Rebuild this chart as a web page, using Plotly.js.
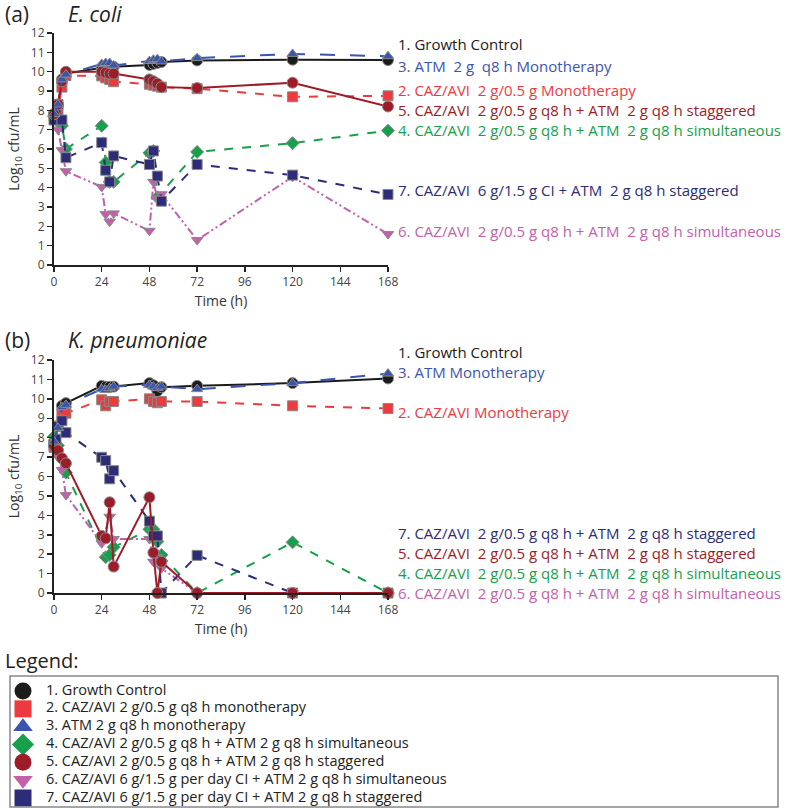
<!DOCTYPE html>
<html>
<head>
<meta charset="utf-8">
<script src="https://cdn.plot.ly/plotly-3.0.1.min.js"></script>
<style>
  body { margin: 0; background: #fff; }
  #chart { width: 791px; height: 809px; }
</style>
</head>
<body>
<div id="chart"></div>
<script>
// time points (h) and log10 cfu/mL, panel (a) E. coli
const tA = [0, 2, 4, 6, 24, 26, 28, 30, 48, 50, 52, 54, 72, 120, 168];
const gcA = [7.8, 8.3, 9.6, 9.9, 10.2, 10.2, 10.2, 10.25, 10.35, 10.4, 10.45, 10.5, 10.58, 10.62, 10.6];
const czA = [7.7, 8.0, 9.2, 9.8, 9.78, 9.68, 9.6, 9.48, 9.35, 9.3, 9.25, 9.2, 9.12, 8.7, 8.75];
const atmA = [7.8, 8.3, 9.6, 9.85, 10.4, 10.45, 10.45, 10.32, 10.55, 10.62, 10.65, 10.53, 10.7, 10.92, 10.8];
const simA_t = [0, 2, 4, 6, 24, 26, 28, 30, 48, 50, 52, 72, 120, 168];
const simA = [7.7, 7.5, 7.2, 6.0, 7.2, 5.3, 4.3, 4.3, 5.8, 5.9, 3.5, 5.85, 6.3, 6.95];
const stagA = [7.8, 8.3, 9.5, 10.0, 10.0, 9.95, 9.9, 9.9, 9.6, 9.5, 9.38, 9.2, 9.15, 9.43, 8.2];
const ciSimA = [7.6, 7.0, 5.94, 4.85, 4.04, 2.63, 2.24, 2.67, 1.77, 4.3, 3.44, 3.66, 1.29, 4.56, 1.6];
const ciStagA_t = [0, 1, 2, 4, 6, 24, 26, 28, 30, 48, 50, 52, 54, 72, 120, 168];
const ciStagA = [7.5, 7.8, 8.3, 7.5, 5.55, 6.33, 4.9, 4.3, 5.64, 5.2, 5.9, 4.6, 3.3, 5.2, 4.65, 3.65];

// panel (b) K. pneumoniae
const tB = [0, 2, 4, 6, 24, 26, 28, 30, 48, 50, 52, 54, 72, 120, 168];
const gcB = [7.8, 8.6, 9.64, 9.78, 10.67, 10.62, 10.62, 10.63, 10.81, 10.7, 10.4, 10.6, 10.67, 10.81, 11.05];
const czB = [7.5, 8.6, 9.18, 9.26, 9.95, 9.64, 9.86, 9.86, 10.0, 9.86, 9.8, 9.86, 9.86, 9.64, 9.5];
const atmB = [7.8, 8.5, 9.57, 9.69, 10.5, 10.45, 10.55, 10.63, 10.72, 10.63, 10.55, 10.63, 10.5, 10.81, 11.3];
const simB_t = [0, 2, 6, 26, 28, 30, 48, 50, 52, 54, 72, 120, 168];
const simB = [8.06, 7.6, 6.2, 1.84, 1.96, 2.36, 3.28, 3.28, 2.65, 1.96, 0, 2.61, 0];
const stagB = [7.6, 7.35, 6.94, 6.68, 2.94, 2.82, 4.67, 1.36, 4.93, 2.08, 0, 1.61, 0, 0, 0];
const ciSimB_t = [0, 2, 4, 6, 24, 28, 30, 48, 50, 52, 54, 72, 120, 168];
const ciSimB = [7.6, 7.0, 6.34, 5.05, 2.56, 3.93, 2.78, 2.78, 1.61, 1.84, 1.27, 0, 0, 0];
const ciStagB_t = [0, 1, 2, 4, 6, 24, 26, 28, 30, 48, 50, 52, 54, 72, 120, 168];
const ciStagB = [7.63, 7.92, 8.57, 8.87, 8.26, 6.99, 6.82, 5.88, 6.3, 3.7, 2.94, 2.94, 0, 1.94, 0, 0];

const legendKeys = ["gc", "cz", "atm", "sim", "stag", "ciSim", "ciStag"];
const legendNames = [
  "1. Growth Control",
  "2. CAZ/AVI 2 g/0.5 g q8 h monotherapy",
  "3. ATM 2 g q8 h monotherapy",
  "4. CAZ/AVI 2 g/0.5 g q8 h + ATM 2 g q8 h simultaneous",
  "5. CAZ/AVI 2 g/0.5 g q8 h + ATM 2 g q8 h staggered",
  "6. CAZ/AVI 6 g/1.5 g per day CI + ATM 2 g q8 h simultaneous",
  "7. CAZ/AVI 6 g/1.5 g per day CI + ATM 2 g q8 h staggered"
];

const FONT = "Open Sans, Noto Sans, sans-serif";
const W = 791, H = 809;
// page pixel -> paper fraction (margins are zero, so paper = page)
function px(p) { return p / W; }
function py(p) { return 1 - p / H; }

// series styles: colour, marker symbol, dash
const sty = {
  gc:     { c: "#1b1b1b", s: "circle",        d: "solid" },
  cz:     { c: "#ec3a3f", s: "square",        d: "dash" },
  atm:    { c: "#3b55ad", s: "triangle-up",   d: "longdash" },
  sim:    { c: "#17a04b", s: "diamond",       d: "dash" },
  stag:   { c: "#9c1c27", s: "circle",        d: "solid" },
  ciSim:  { c: "#c35fab", s: "triangle-down", d: "8px,3px,2px,3px,2px,3px" },
  ciStag: { c: "#2d2c78", s: "square",        d: "dash" }
};

function line(x, y, k, ax) {
  const st = sty[k];
  return {
    x: x, y: y, xaxis: ax[0], yaxis: ax[1],
    type: "scatter", mode: "lines+markers", showlegend: false, cliponaxis: false,
    line: { color: st.c, width: 2, dash: st.d },
    marker: { symbol: st.s, size: k === "stag" || k === "gc" ? 11 : 10, color: st.c,
              line: { color: "#8a8a8a", width: 1 } },
    hoverinfo: "x+y"
  };
}

const axA = ["x", "y"], axB = ["x2", "y2"];
const data = [
  line(tA, gcA, "gc", axA),
  line(tA, czA, "cz", axA),
  line(simA_t, simA, "sim", axA),
  line(tA, ciSimA, "ciSim", axA),
  line(ciStagA_t, ciStagA, "ciStag", axA),
  line(tA, stagA, "stag", axA),
  line(tA, atmA, "atm", axA),
  line(tB, gcB, "gc", axB),
  line(tB, czB, "cz", axB),
  line(simB_t, simB, "sim", axB),
  line(ciSimB_t, ciSimB, "ciSim", axB),
  line(ciStagB_t, ciStagB, "ciStag", axB),
  line(tB, stagB, "stag", axB),
  line(tB, atmB, "atm", axB)
];

// boxed key at the bottom: one row per regimen on a hidden category axis
data.push({
  x: legendNames.map(function () { return 0; }), y: legendNames,
  xaxis: "x3", yaxis: "y3", type: "scatter", mode: "markers",
  showlegend: false, cliponaxis: false, hoverinfo: "skip",
  marker: {
    symbol: legendKeys.map(function (k) { return sty[k].s; }),
    color: legendKeys.map(function (k) { return sty[k].c; }),
    size: 17
  }
});
data.push({
  x: legendNames.map(function () { return 1; }), y: legendNames,
  xaxis: "x3", yaxis: "y3", type: "scatter", mode: "text",
  text: legendNames, textposition: "middle right",
  textfont: { family: FONT, size: 14.5, color: "#222" },
  showlegend: false, cliponaxis: false, hoverinfo: "skip"
});

function xAx(anchor) {
  return {
    anchor: anchor, domain: [px(54), px(388)], range: [0, 168], tickvals: [0, 24, 48, 72, 96, 120, 144, 168],
    ticks: "outside", ticklen: 5, tickwidth: 1.5, tickcolor: "#222",
    showline: true, linewidth: 2, linecolor: "#222", showgrid: false, zeroline: false,
    tickfont: { family: FONT, size: 12, color: "#444" },
    title: { text: "Time (h)", font: { family: FONT, size: 14, color: "#333" }, standoff: 7 }
  };
}
function yAx(anchor, dom) {
  return {
    anchor: anchor, domain: dom, range: [0, 12], dtick: 1,
    ticks: "outside", ticklen: 5, tickwidth: 1.5, tickcolor: "#222",
    showline: true, linewidth: 2, linecolor: "#222", showgrid: false, zeroline: false,
    tickfont: { family: FONT, size: 12, color: "#444" },
    title: { text: "Log<sub>10</sub> cfu/mL", font: { family: FONT, size: 14, color: "#333" }, standoff: 8 }
  };
}

const labelsA = [
  ["1. Growth Control", 44, sty.gc.c],
  ["3. ATM  2 g  q8 h Monotherapy", 66, sty.atm.c],
  ["2. CAZ/AVI  2 g/0.5 g Monotherapy", 90, sty.cz.c],
  ["5. CAZ/AVI  2 g/0.5 g q8 h + ATM  2 g q8 h staggered", 110, sty.stag.c],
  ["4. CAZ/AVI  2 g/0.5 g q8 h + ATM  2 g q8 h simultaneous", 130, sty.sim.c],
  ["7. CAZ/AVI  6 g/1.5 g CI + ATM  2 g q8 h staggered", 190, sty.ciStag.c],
  ["6. CAZ/AVI  2 g/0.5 g q8 h + ATM  2 g q8 h simultaneous", 231, sty.ciSim.c]
];
const labelsB = [
  ["1. Growth Control", 352, sty.gc.c],
  ["3. ATM Monotherapy", 372, sty.atm.c],
  ["2. CAZ/AVI Monotherapy", 412, sty.cz.c],
  ["7. CAZ/AVI  2 g/0.5 g q8 h + ATM  2 g q8 h staggered", 533, sty.ciStag.c],
  ["5. CAZ/AVI  2 g/0.5 g q8 h + ATM  2 g q8 h staggered", 553, sty.stag.c],
  ["4. CAZ/AVI  2 g/0.5 g q8 h + ATM  2 g q8 h simultaneous", 573, sty.sim.c],
  ["6. CAZ/AVI  2 g/0.5 g q8 h + ATM  2 g q8 h simultaneous", 593, sty.ciSim.c]
];

const annotations = [];
labelsA.concat(labelsB).forEach(function (l) {
  annotations.push({
    text: l[0], xref: "paper", yref: "paper", x: px(396), y: py(l[1]),
    xanchor: "left", yanchor: "middle", showarrow: false,
    font: { family: FONT, size: 15, color: l[2] }
  });
});
[["(a)", 3, 14], ["<i>E. coli</i>", 66, 14], ["(b)", 3, 340], ["<i>K. pneumoniae</i>", 66, 340], ["Legend:", 3, 660]].forEach(function (a) {
  annotations.push({
    text: a[0], xref: "paper", yref: "paper", x: px(a[1]), y: py(a[2]),
    xanchor: "left", yanchor: "middle", showarrow: false,
    font: { family: FONT, size: a[0] === "Legend:" ? 20 : 21, color: "#222" }
  });
});

const layout = {
  width: W, height: H,
  margin: { l: 0, r: 0, t: 0, b: 0, autoexpand: false },
  paper_bgcolor: "#fff", plot_bgcolor: "#fff",
  font: { family: FONT, color: "#222" },
  showlegend: false,
  xaxis: xAx("y"),
  yaxis: yAx("x", [py(265), py(33)]),
  xaxis2: xAx("y2"),
  yaxis2: yAx("x2", [py(593), py(360)]),
  xaxis3: { domain: [px(23), px(46)], range: [0, 1], visible: false, anchor: "y3" },
  yaxis3: { domain: [py(798), py(691)], range: [6, 0], type: "category", visible: false, anchor: "x3" },
  shapes: [{
    type: "rect", xref: "paper", yref: "paper",
    x0: px(10), x1: px(778), y0: py(676), y1: py(807),
    line: { color: "#888", width: 1.5 }
  }],
  annotations: annotations
};

Plotly.newPlot("chart", data, layout, { displayModeBar: false, staticPlot: true });
</script>
</body>
</html>
